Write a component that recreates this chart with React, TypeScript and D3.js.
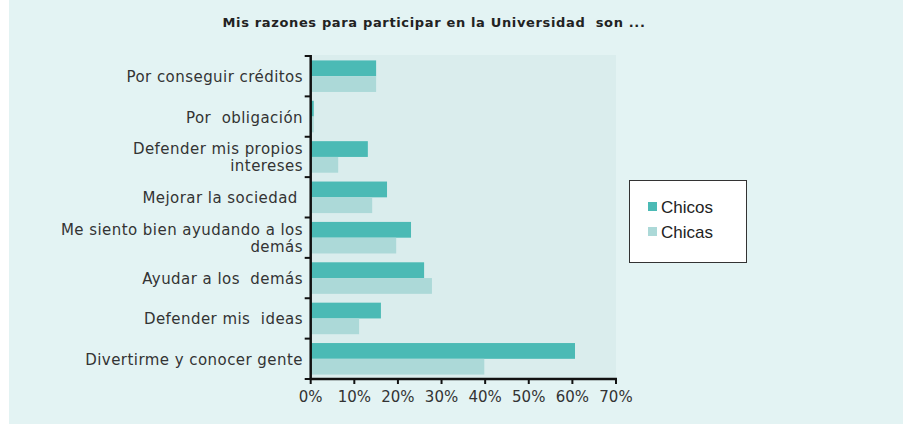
import React from "react";
import * as d3 from "d3";

const title = "Mis razones para participar en la Universidad  son ...";
const categories = [
  "Por conseguir créditos",
  "Por  obligación",
  "Defender mis propios\nintereses",
  "Mejorar la sociedad ",
  "Me siento bien ayudando a los\ndemás",
  "Ayudar a los  demás",
  "Defender mis  ideas",
  "Divertirme y conocer gente",
];
const chicos = [15.0, 0.7, 13.1, 17.5, 23.0, 26.0, 16.1, 60.6];
const chicas = [15.0, 0.7, 6.3, 14.1, 19.6, 27.8, 11.1, 39.8];
const seriesNames = ["Chicos", "Chicas"];
const xTicks = [0, 10, 20, 30, 40, 50, 60, 70];

const colors = ["#4bbab5", "#acd9d8"];
const W = 903;
const H = 424;
const font = "'DejaVu Sans', sans-serif";

export default function App() {
  const left = 310.7;
  const right = 616;
  const top = 56;
  const bottom = 379;
  const x = d3.scaleLinear().domain([0, 70]).range([left, right]);
  const y = d3.scaleBand<string>().domain(categories).range([top, bottom]).paddingInner(0).paddingOuter(0);
  const inner = d3.scaleBand<string>().domain(seriesNames).range([0, y.bandwidth()]).paddingInner(0).paddingOuter(0.28);
  const data = [chicos, chicas];

  return (
    <svg width={W} height={H} style={{ position: "absolute", left: 0, top: 0, display: "block" }}>
      <rect x={9} y={0} width={W - 9} height={H} fill="#e3f3f3" />
      <rect x={left} y={55} width={right - left} height={bottom - 55} fill="#daeded" />
      <text x={434} y={27} textAnchor="middle" fontFamily={font} fontWeight={700} fontSize={13} letterSpacing={0.65} fill="#222" style={{ whiteSpace: "pre" }}>
        {title}
      </text>
      {categories.map((c, i) => (
        <g key={c}>
          {data.map((s, k) => (
            <rect
              key={k}
              x={x(0)}
              y={(y(c) as number) + (inner(seriesNames[k]) as number)}
              width={x(s[i]) - x(0)}
              height={inner.bandwidth()}
              fill={colors[k]}
            />
          ))}
        </g>
      ))}
      {/* y labels */}
      {categories.map((c) => {
        const lines = c.split("\n");
        const cy = (y(c) as number) + y.bandwidth() / 2;
        const lh = 17;
        const start = cy - ((lines.length - 1) * lh) / 2 + 6;
        return lines.map((l, j) => (
          <text
            key={c + j}
            x={303}
            y={start + j * lh}
            textAnchor="end"
            fontFamily={font}
            fontSize={15}
            letterSpacing={0.45}
            fill="#333"
            style={{ whiteSpace: "pre" }}
          >
            {l}
          </text>
        ));
      })}
      {/* y axis */}
      <line x1={left} x2={left} y1={top - 1} y2={bottom + 1} stroke="#111" strokeWidth={2.5} />
      {[...categories.map((c) => y(c) as number), bottom].map((v, i) => (
        <line key={i} x1={left - 6} x2={left} y1={v} y2={v} stroke="#111" strokeWidth={2} />
      ))}
      {/* x axis */}
      <line x1={left - 1} x2={right + 1} y1={bottom} y2={bottom} stroke="#111" strokeWidth={2.5} />
      {xTicks.map((t) => (
        <g key={t}>
          <line x1={x(t)} x2={x(t)} y1={bottom} y2={bottom + 5} stroke="#111" strokeWidth={2} />
          <text x={x(t)} y={402} textAnchor="middle" fontFamily={font} fontSize={15} fill="#333">
            {t}%
          </text>
        </g>
      ))}
      {/* legend */}
      <rect x={629.5} y={180.5} width={117} height={82} fill="#ffffff" stroke="#333" strokeWidth={1} />
      {seriesNames.map((n, k) => (
        <g key={n}>
          <rect x={648} y={202 + k * 25} width={9} height={9} fill={colors[k]} />
          <text x={661} y={213 + k * 25} fontFamily="'Liberation Sans', Arial, sans-serif" fontSize={17} fill="#222">
            {n}
          </text>
        </g>
      ))}
    </svg>
  );
}
